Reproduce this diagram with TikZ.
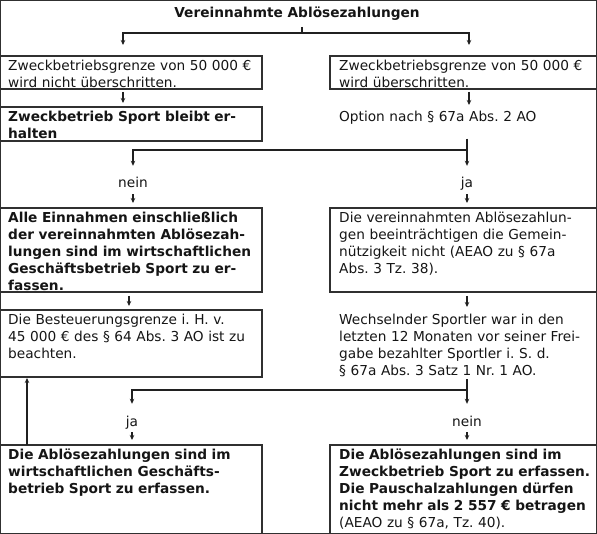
\documentclass[tikz,border=0pt]{standalone}
\usepackage{fontspec}
\setmainfont{DejaVu Sans}
\usetikzlibrary{arrows.meta}
\definecolor{boxc}{HTML}{303030}
\definecolor{linec}{HTML}{202020}
\definecolor{txtc}{HTML}{151515}
\newcommand\fsz{\fontsize{13.7}{17}\selectfont\frenchspacing}
\begin{document}
\begin{tikzpicture}[x=1pt,y=-1pt,
  box/.style={draw=boxc, line width=1.3pt, rectangle, inner sep=0pt, outer sep=0pt, anchor=north west},
  txt/.style={align=left, text width=320pt, inner sep=0pt, anchor=north west, text=txtc, font=\fsz},
  lab/.style={inner sep=0pt, text=txtc, font=\fsz, text height=10pt, text depth=3pt, anchor=base},
  ln/.style={line width=1.2pt, draw=linec},
  arr/.style={ln, -{Stealth[length=5pt,width=4.5pt]}}]
\useasboundingbox (0,0) rectangle (597,534);
\draw[boxc, line width=1.3pt] (0.65,0.65) rectangle (596.35,533.35);

% title
\node[inner sep=0pt, text=txtc, font=\fsz\bfseries] (title) at (297,14) {Vereinnahmte Ablösezahlungen};

% boxes
\node[box, minimum width=262pt, minimum height=33pt] (L1) at (0,56) {};
\node[box, minimum width=267pt, minimum height=33pt] (R1) at (330,56) {};
\node[box, minimum width=262pt, minimum height=34pt] (L2) at (0,107) {};
\node[box, minimum width=262pt, minimum height=84pt] (L3) at (0,208) {};
\node[box, minimum width=267pt, minimum height=84pt] (R3) at (330,208) {};
\node[box, minimum width=262pt, minimum height=67pt] (L4) at (0,310) {};
\node[box, minimum width=262pt, minimum height=89pt] (L5) at (0,445) {};
\node[box, minimum width=267pt, minimum height=89pt] (R5) at (330,445) {};

% texts
\node[txt] (tL1) at ([shift={(8pt,-4pt)}]L1.north west) {Zweckbetriebsgrenze von 50 000 €\\wird nicht überschritten.};
\node[txt] (tR1) at ([shift={(9pt,-4pt)}]R1.north west) {Zweckbetriebsgrenze von 50 000 €\\wird überschritten.};
\node[txt, font=\fsz\bfseries] (tL2) at ([shift={(8pt,-4pt)}]L2.north west) {Zweckbetrieb Sport bleibt er-\\halten};
\node[txt] (opt) at (339,111) {Option nach § 67a Abs. 2 AO};
\node[txt, font=\fsz\bfseries] (tL3) at ([shift={(8pt,-4pt)}]L3.north west) {Alle Einnahmen einschließlich\\der vereinnahmten Ablösezah-\\lungen sind im wirtschaftlichen\\Geschäftsbetrieb Sport zu er-\\fassen.};
\node[txt] (tR3) at ([shift={(9pt,-4pt)}]R3.north west) {Die vereinnahmten Ablösezahlun-\\gen beeinträchtigen die Gemein-\\nützigkeit nicht (AEAO zu § 67a\\Abs. 3 Tz. 38).};
\node[txt] (tL4) at ([shift={(8pt,-4pt)}]L4.north west) {Die Besteuerungsgrenze i. H. v.\\45 000 € des § 64 Abs. 3 AO ist zu\\beachten.};
\node[txt] (wech) at (339,314) {Wechselnder Sportler war in den\\letzten 12 Monaten vor seiner Frei-\\gabe bezahlter Sportler i. S. d.\\§ 67a Abs. 3 Satz 1 Nr. 1 AO.};
\node[txt, font=\fsz\bfseries] (tL5) at ([shift={(8pt,-4pt)}]L5.north west) {Die Ablösezahlungen sind im\\wirtschaftlichen Geschäfts-\\betrieb Sport zu erfassen.};
\node[txt] (tR5) at ([shift={(9pt,-4pt)}]R5.north west) {\textbf{Die Ablösezahlungen sind im}\\\textbf{Zweckbetrieb Sport zu erfassen.}\\\textbf{Die Pauschalzahlungen dürfen}\\\textbf{nicht mehr als 2 557 € betragen}\\(AEAO zu § 67a, Tz. 40).};

% labels
\node[lab] (nein1) at (133,188) {nein};
\node[lab] (ja1) at (467,188) {ja};
\node[lab] (ja2) at (132,426) {ja};
\node[lab] (nein2) at (467,426) {nein};

% connectors
\coordinate (j1) at (302,33);
\draw[ln, shorten <=6pt] (title.south -| j1) -- (j1);
\draw[arr, shorten >=11pt] (j1) -| ([xshift=-8pt]L1.north);
\draw[arr, shorten >=11pt] (j1) -| ([xshift=5.5pt]R1.north);

\draw[arr, shorten <=3pt, shorten >=4pt] ([xshift=-8pt]L1.south) -- ([xshift=-8pt]L2.north);
\draw[arr, shorten <=3pt, shorten >=6pt] ([xshift=5.5pt]R1.south) -- ([xshift=5.5pt]R1.south |- opt.north);

\coordinate (j2) at (467,150);
\draw[arr, shorten <=14pt, shorten >=12pt] (opt.south -| ja1) -- (ja1.north);
\draw[arr, shorten >=12pt] (j2) -| (nein1.north);
\draw[arr, shorten <=3pt, shorten >=5pt] (nein1.south) -- (nein1.south |- L3.north);
\draw[arr, shorten <=3pt, shorten >=5pt] (ja1.south) -- (ja1.south |- R3.north);

\draw[arr, shorten <=4pt, shorten >=4pt] ([xshift=-2pt]L3.south) -- ([xshift=-2pt]L4.north);
\draw[arr, shorten <=4pt, shorten >=7pt] (ja1 |- R3.south) -- (ja1 |- wech.north);

\draw[arr, shorten >=1pt] ([xshift=27pt]L5.north west) -- ([xshift=27pt]L4.south west);

\coordinate (j3) at (467,390);
\draw[arr, shorten <=2pt, shorten >=12pt] (wech.south -| nein2) -- (nein2.north);
\draw[arr, shorten >=12pt] (j3) -| (ja2.north);
\draw[arr, shorten <=3pt, shorten >=5pt] (ja2.south) -- (ja2.south |- L5.north);
\draw[arr, shorten <=3pt, shorten >=5pt] (nein2.south) -- (nein2.south |- R5.north);
\end{tikzpicture}
\end{document}
